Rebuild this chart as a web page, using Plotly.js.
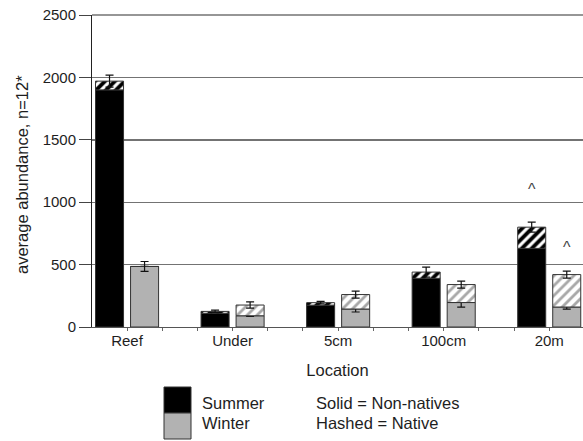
<!DOCTYPE html>
<html>
<head>
<meta charset="utf-8">
<script src="https://cdn.plot.ly/plotly-3.0.1.min.js"></script>
<style>
  html, body { margin: 0; padding: 0; background: #fff; }
  #chart { width: 583px; height: 441px; }
</style>
</head>
<body>
<div id="chart"></div>
<script>
// Average abundance by location, summer vs winter, split into non-native (solid) and native (hashed)
const locations = ['Reef', 'Under', '5cm', '100cm', '20m'];

const summerNonNative = [1900, 110, 175, 390, 630];
const summerNative    = [70, 15, 20, 50, 170];
const summerTotalErr  = [48, 10, 10, 40, 40];

const winterNonNative    = [485, 90, 144, 196, 160];
const winterNative       = [0, 86, 116, 144, 260];
const winterTotalErr     = [40, 25, 28, 28, 28];
const winterNonNativeErr = [0, 6, 24, 36, 16];

// Locations flagged with a caret, and the height of each caret
const caretSummer = {loc: '20m', y: 1100};
const caretWinter = {loc: '20m', y: 640};

const Y_MAX = 2500;

const FONT = 'Liberation Sans, Arial, sans-serif';
const TXT = '#1e1e1e';
const EDGE = {color: '#333', width: 1};

const traces = [
  {
    type: 'bar', x: locations, y: summerNonNative, offsetgroup: 'summer',
    marker: {color: '#000', line: EDGE}, hoverinfo: 'skip'
  },
  {
    type: 'bar', x: locations, y: summerNative, base: summerNonNative, offsetgroup: 'summer',
    marker: {color: '#fff', line: EDGE,
      pattern: {shape: '/', fgcolor: '#000', bgcolor: '#fff', size: 7, solidity: 0.55}},
    error_y: {type: 'data', array: summerTotalErr, visible: true, color: '#111', thickness: 1.2, width: 4},
    hoverinfo: 'skip'
  },
  {
    type: 'bar', x: locations, y: winterNonNative, offsetgroup: 'winter',
    marker: {color: '#b2b2b2', line: EDGE},
    error_y: {type: 'data', array: winterNonNativeErr, visible: true, color: '#111', thickness: 1.2, width: 4},
    hoverinfo: 'skip'
  },
  {
    type: 'bar', x: locations, y: winterNative, base: winterNonNative, offsetgroup: 'winter',
    marker: {color: '#fff', line: EDGE,
      pattern: {shape: '/', fgcolor: '#a8a8a8', bgcolor: '#fff', size: 7, solidity: 0.4}},
    error_y: {type: 'data', array: winterTotalErr, visible: true, color: '#111', thickness: 1.2, width: 4},
    hoverinfo: 'skip'
  },
  // invisible trace carrying the fine tick marks along the bottom axis
  {
    type: 'scatter', x: [0], y: [0], xaxis: 'x2', mode: 'markers',
    marker: {opacity: 0}, hoverinfo: 'skip'
  }
];

// pixel helpers for the legend block under the plot (paper coordinates)
const PLOT_TOP = 15, PLOT_H = 312, PLOT_L = 92, PLOT_W = 491;
const py = p => (PLOT_TOP + PLOT_H - p) / PLOT_H;
const px = p => (p - PLOT_L) / PLOT_W;

const xRange = [-0.332, 4.32];
const GRID = '#737373';

const layout = {
  width: 583, height: 441,
  margin: {l: PLOT_L, r: 0, t: PLOT_TOP, b: 441 - PLOT_TOP - PLOT_H},
  paper_bgcolor: '#fff', plot_bgcolor: '#fff',
  font: {family: FONT, size: 15, color: TXT},
  showlegend: false,
  barmode: 'group',
  bargap: 0.336,
  bargroupgap: 0.2,
  xaxis: {
    type: 'category', range: xRange, fixedrange: true,
    showline: true, linecolor: '#555', linewidth: 1,
    ticks: '', showgrid: false,
    tickfont: {family: FONT, size: 15, color: TXT},
    title: {text: 'Location', font: {family: FONT, size: 16.5, color: TXT}, standoff: 16}
  },
  xaxis2: {
    overlaying: 'x', anchor: 'y', range: xRange, fixedrange: true,
    tick0: 0, dtick: 1 / 3, ticks: 'outside', ticklen: 3, tickcolor: '#666', tickwidth: 1,
    showticklabels: false, showgrid: false, showline: false, zeroline: false
  },
  yaxis: {
    range: [0, Y_MAX], dtick: 500, fixedrange: true,
    showline: true, linecolor: '#222', linewidth: 1,
    ticks: 'outside', ticklen: 12, tickcolor: '#444',
    showgrid: true, gridcolor: GRID, gridwidth: 1.4,
    zeroline: false,
    tickfont: {family: FONT, size: 15, color: TXT}
  },
  shapes: [
    // gridline along the top of the value range
    {type: 'line', xref: 'paper', yref: 'paper', x0: 0, x1: 1, y0: 1, y1: 1,
      line: {color: GRID, width: 1.4}},
    {type: 'rect', xref: 'paper', yref: 'paper', x0: px(164), x1: px(191), y0: py(413), y1: py(387),
      fillcolor: '#000', line: {color: '#333', width: 1}},
    {type: 'rect', xref: 'paper', yref: 'paper', x0: px(164), x1: px(191), y0: py(439), y1: py(413),
      fillcolor: '#b2b2b2', line: {color: '#333', width: 1}}
  ],
  annotations: [
    {text: 'average abundance, n=12*', textangle: -90, xref: 'paper', yref: 'paper',
      x: px(22), y: py(175), xanchor: 'center', yanchor: 'middle', showarrow: false,
      font: {family: FONT, size: 16.5, color: TXT}},
    {text: 'Summer', xref: 'paper', yref: 'paper', x: px(200), y: py(403),
      xanchor: 'left', yanchor: 'middle', showarrow: false, font: {family: FONT, size: 16.5, color: TXT}},
    {text: 'Winter', xref: 'paper', yref: 'paper', x: px(200), y: py(423),
      xanchor: 'left', yanchor: 'middle', showarrow: false, font: {family: FONT, size: 16.5, color: TXT}},
    {text: 'Solid = Non-natives', xref: 'paper', yref: 'paper', x: px(314), y: py(403),
      xanchor: 'left', yanchor: 'middle', showarrow: false, font: {family: FONT, size: 16.5, color: TXT}},
    {text: 'Hashed = Native', xref: 'paper', yref: 'paper', x: px(314), y: py(423),
      xanchor: 'left', yanchor: 'middle', showarrow: false, font: {family: FONT, size: 16.5, color: TXT}},
    {text: '^', x: caretSummer.loc, y: caretSummer.y, xref: 'x', yref: 'y', xshift: -17.5,
      showarrow: false, font: {family: FONT, size: 16, color: '#444'}},
    {text: '^', x: caretWinter.loc, y: caretWinter.y, xref: 'x', yref: 'y', xshift: 17.5,
      showarrow: false, font: {family: FONT, size: 16, color: '#444'}}
  ]
};

Plotly.newPlot('chart', traces, layout, {staticPlot: true, displayModeBar: false});
</script>
</body>
</html>
